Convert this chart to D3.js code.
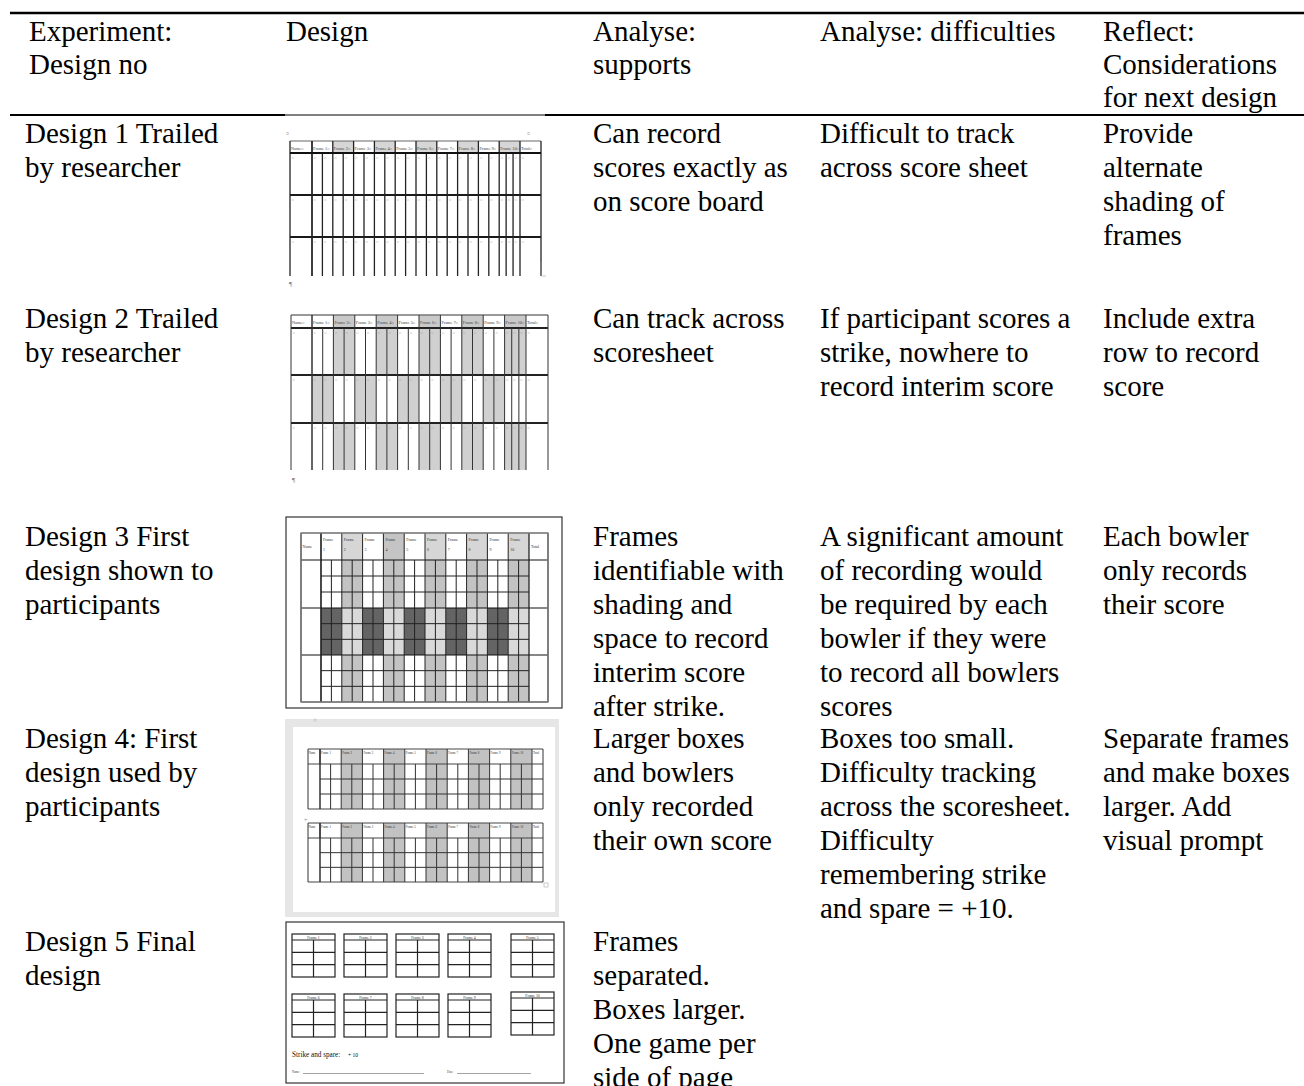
<!DOCTYPE html>
<html><head><meta charset="utf-8">
<script src="https://cdn.jsdelivr.net/npm/d3@7"></script>
<style>html,body{margin:0;padding:0;background:#fff;}svg{display:block;}</style>
</head><body>
<script>
// ---------- DATA ----------
const headers = [["Experiment:","Design no"],["Design"],["Analyse:","supports"],["Analyse: difficulties"],["Reflect:","Considerations","for next design"]];
const designNames = [
  ["Design 1 Trailed","by researcher"],
  ["Design 2 Trailed","by researcher"],
  ["Design 3 First","design shown to","participants"],
  ["Design 4: First","design used by","participants"],
  ["Design 5 Final","design"]
];
const supports = [
  ["Can record","scores exactly as","on score board"],
  ["Can track across","scoresheet"],
  ["Frames","identifiable with","shading and","space to record","interim score","after strike."],
  ["Larger boxes","and bowlers","only recorded","their own score"],
  ["Frames","separated.","Boxes larger.","One game per","side of page"]
];
const difficulties = [
  ["Difficult to track","across score sheet"],
  ["If participant scores a","strike, nowhere to","record interim score"],
  ["A significant amount","of recording would","be required by each","bowler if they were","to record all bowlers","scores"],
  ["Boxes too small.","Difficulty tracking","across the scoresheet.","Difficulty","remembering strike","and spare = +10."],
  []
];
const reflections = [
  ["Provide","alternate","shading of","frames"],
  ["Include extra","row to record","score"],
  ["Each bowler","only records","their score"],
  ["Separate frames","and make boxes","larger. Add","visual prompt"],
  []
];
const frameNumbers = [1,2,3,4,5,6,7,8,9,10];
const ballsPerFrame = [2,2,2,2,2,2,2,2,2,3];
const shadedFrames = [0,1,0,1,0,1,0,1,0,1];           // alternate shading (even frames)
const design2RowShading = [[0,1,0,1,0,1,0,1,0,1],[1,0,1,0,1,0,1,0,1,0],[0,1,0,1,0,1,0,1,0,1]];
const design3BlockShading = [["","L","","L","","L","","L","","L"],["D","l","D","l","D","l","D","l","D","l"],["","L","","L","","L","","L","","L"]];
const strikeLabel = "Strike and spare:";
const strikeValue = "+ 10";

// ---------- SETUP ----------
const W=1304,H=1086;
const FONT="'Liberation Serif','Times New Roman',serif";
const svg=d3.select("body").append("svg").attr("width",W).attr("height",H);
svg.append("rect").attr("width",W).attr("height",H).attr("fill","#fff");

function ln(g,x1,y1,x2,y2,stroke,w){return g.append("line").attr("x1",x1).attr("y1",y1).attr("x2",x2).attr("y2",y2).attr("stroke",stroke).attr("stroke-width",w);}
function rc(g,x,y,w,h,fill,stroke,sw){return g.append("rect").attr("x",x).attr("y",y).attr("width",w).attr("height",h).attr("fill",fill||"none").attr("stroke",stroke||"none").attr("stroke-width",sw||0);}
function tx(g,x,y,s,size,fill,anchor,weight){return g.append("text").attr("x",x).attr("y",y).text(s).attr("font-family",FONT).attr("font-size",size).attr("fill",fill||"#000").attr("text-anchor",anchor||"start").attr("font-weight",weight||"normal");}

// ---------- TABLE TEXT ----------
const colX=[25,286,593,820,1103];
const lineH=34;
const T=svg.append("g");
headers.forEach((lines,i)=>{
  lines.forEach((s,j)=>tx(T,i===0?29:colX[i],41+j*33,s,29));
});
const rowBase=[143,328,546,748,951];
const cols=[designNames,null,supports,difficulties,reflections];
cols.forEach((arr,ci)=>{
  if(!arr) return;
  arr.forEach((lines,ri)=>lines.forEach((s,j)=>tx(T,colX[ci],rowBase[ri]+j*lineH,s,29)));
});

// rules
ln(T,10,13,W,13,"#000",2.5);
ln(T,10,115,285,115,"#000",2);
ln(T,285,115,545,115,"#000",1);
ln(T,545,115,W,115,"#000",2);

// ---------- SCORESHEET HELPER ----------
function drawSheet(g,o){
  const fx=d3.scaleBand().domain(frameNumbers).range([o.xName,o.xTotal]);
  const bw=fx.bandwidth();
  const B=o.blocks;
  frameNumbers.forEach((f,i)=>{
    const hf=o.headerFill(i); if(hf) rc(g,fx(f),o.hy0,bw,o.hy1-o.hy0,hf);
    for(let b=0;b<B.length-1;b++){const bf=o.bodyFill(b,i); if(bf) rc(g,fx(f),B[b],bw,B[b+1]-B[b],bf);}
  });
  if(o.headerLabel){ o.headerLabel(g,fx,bw); }
  ln(g,o.x0,o.hy0,o.x1,o.hy0,o.hStroke,o.hTopW);
  B.forEach((y,k)=>{ if(k===B.length-1 && !o.bottom) return; ln(g,o.x0,y,o.x1,y,o.bStroke,o.bW); });
  if(o.sub>1){
    for(let b=0;b<B.length-1;b++){
      for(let s=1;s<o.sub;s++){
        const y=B[b]+(B[b+1]-B[b])*s/o.sub;
        ln(g,o.xName,y,o.subToTotal?o.x1:o.xTotal,y,o.sStroke,o.sW);
      }
    }
  }
  const yEnd=o.yEnd||B[B.length-1];
  [o.x0,o.xName,o.xTotal,o.x1].forEach(x=>ln(g,x,o.hy0,x,yEnd,o.vStroke,o.vOuterW||o.vW));
  frameNumbers.forEach((f,i)=>{
    ln(g,fx(f),o.hy0,fx(f),yEnd,o.vStroke,o.vW);
    const n=o.balls[i];
    for(let k=1;k<n;k++){const x=fx(f)+bw*k/n; ln(g,x,o.hy1,x,yEnd,o.vStroke,o.vSubW||o.vW);}
  });
  if(o.marks){
    for(let b=0;b<B.length-1;b++){
      tx(g,o.x0+1.5,B[b]+6,"¤",4.5,"#999");
      frameNumbers.forEach((f,i)=>{const n=o.balls[i]; for(let k=0;k<n;k++) tx(g,fx(f)+bw*k/n+1.5,B[b]+6,"¤",4.5,"#999");});
      tx(g,o.xTotal+1.5,B[b]+6,"¤",4.5,"#999");
    }
  }
}
function wordHeader(g,fx,bw,o,size){
  tx(g,o.x0+1,o.hy0+(o.hy1-o.hy0)*0.72,"Name¤",size,"#444");
  frameNumbers.forEach(f=>tx(g,fx(f)+1,o.hy0+(o.hy1-o.hy0)*0.72,"Frame "+f+"¤",size,"#444"));
  tx(g,o.xTotal+1,o.hy0+(o.hy1-o.hy0)*0.72,"Total¤",size,"#444");
}

// ---------- DESIGN 1 ----------
(function(){
  const g=svg.append("g");
  const o={x0:290,xName:312,xTotal:520,x1:541,hy0:141,hy1:153,blocks:[153,195,237,276],sub:1,balls:ballsPerFrame,
    headerFill:i=>shadedFrames[i]?"#d6d6d6":null, bodyFill:()=>null,
    hStroke:"#666",hTopW:1,bStroke:"#1a1a1a",bW:2.2,vStroke:"#222",vW:1.3,marks:true};
  o.headerLabel=(g,fx,bw)=>wordHeader(g,fx,bw,o,4.3);
  drawSheet(g,o);
  ln(g,290,153,541,153,"#111",2);
  tx(g,286,136,"¤",6,"#999"); tx(g,527,136,"¤",6,"#999"); tx(g,289,286,"¶",7,"#777");
  ln(g,541,262,541,276,"#888",0.8); ln(g,541,276,546,276,"#bbb",0.8);
})();

// ---------- DESIGN 2 ----------
(function(){
  const g=svg.append("g");
  const o={x0:291,xName:312,xTotal:526,x1:548,hy0:315,hy1:328,blocks:[328,375,423,470],sub:1,balls:ballsPerFrame,
    headerFill:i=>shadedFrames[i]?"#c9c9c9":null, bodyFill:(b,i)=>design2RowShading[b][i]?"#d0d0d0":null,
    hStroke:"#777",hTopW:1.5,bStroke:"#222",bW:2,vStroke:"#333",vW:1,marks:true};
  o.headerLabel=(g,fx,bw)=>wordHeader(g,fx,bw,o,4.3);
  drawSheet(g,o);
  tx(g,292,482,"¶",7,"#777");
})();

// ---------- DESIGN 3 ----------
(function(){
  const g=svg.append("g");
  rc(g,286,517,276,191,"#fff","#333",1.2);
  const fills={L:"#c3c3c3",l:"#d9d9d9",D:"#646464"};
  const o={x0:301,xName:321,xTotal:529,x1:548,hy0:533,hy1:560,blocks:[560,608,655,702],sub:3,balls:frameNumbers.map(()=>2),
    headerFill:i=>shadedFrames[i]?(i===3?"#c4c4c4":"#d6d6d6"):null,
    bodyFill:(b,i)=>{const c=design3BlockShading[b][i];return c?fills[c]:null;},
    hStroke:"#888",hTopW:1.5,bStroke:"#111",bW:1.2,sStroke:"#222",sW:1,vStroke:"#222",vW:1,vOuterW:1.3,bottom:true};
  o.headerLabel=(g,fx,bw)=>{
    tx(g,o.x0+1.5,548,"Name",4,"#333");
    frameNumbers.forEach(f=>{tx(g,fx(f)+2,541,"Frame",4,"#333"); tx(g,fx(f)+2,551,String(f),4,"#333");});
    tx(g,o.xTotal+2,548,"Total",4,"#333");
  };
  drawSheet(g,o);
  rc(g,301,533,247,169,"none","#888",1.3);
})();

// ---------- DESIGN 4 ----------
(function(){
  const g=svg.append("g");
  rc(g,285,719,274,198,"#e6e6e6");
  rc(g,293,727,262,185,"#fff");
  [[749,764,[764,809]],[823,838,[838,882]]].forEach(([h0,h1,bb])=>{
    const o={x0:308,xName:320,xTotal:532,x1:543,hy0:h0,hy1:h1,blocks:bb,sub:3,balls:frameNumbers.map(()=>2),subToTotal:true,
      headerFill:i=>shadedFrames[i]?"#c2c2c2":null, bodyFill:(b,i)=>shadedFrames[i]?"#c2c2c2":null,
      hStroke:"#444",hTopW:1,bStroke:"#444",bW:1,sStroke:"#333",sW:1,vStroke:"#333",vW:1,bottom:true};
    o.headerLabel=(g,fx,bw)=>{
      tx(g,o.x0+0.5,h0+5,"Name",3,"#333");
      frameNumbers.forEach(f=>tx(g,fx(f)+1,h0+5,"Frame "+f,3,"#333"));
      tx(g,o.xTotal+1,h0+5,"Total",3,"#333");
    };
    drawSheet(g,o);
    ln(g,320,h1,320,h0,"#333",1);
  });
  tx(g,304,822,"+",6,"#888");
  rc(g,544,883,4,4,"none","#aaa",0.6);
  rc(g,314,719,2,2,"none","#bbb",0.5);
})();

// ---------- DESIGN 5 ----------
(function(){
  const g=svg.append("g");
  rc(g,286,922,278,161,"#fff","#333",1.2);
  const xs=d3.scaleLinear().domain([0,3]).range([292,448]);
  const boxW=43,boxH=43,titleH=6;
  frameNumbers.forEach((f,i)=>{
    const row=Math.floor(i/5), k=i%5;
    const x=k<4?xs(k):511, y=row===0?934:(k===4?992:994);
    rc(g,x,y,boxW,boxH,"#fff","#222",1.2);
    ln(g,x,y+titleH,x+boxW,y+titleH,"#222",1);
    ln(g,x+boxW/2,y+titleH,x+boxW/2,y+boxH,"#222",1.2);
    const rh=(boxH-titleH)/3;
    for(let r=1;r<3;r++) ln(g,x,y+titleH+rh*r,x+boxW,y+titleH+rh*r,"#222",1.2);
    tx(g,x+boxW/2,y+5,"Frame "+f,3.8,"#333","middle");
  });
  tx(g,292,1057,strikeLabel,7.2,"#111");
  tx(g,348,1057,strikeValue,5.5,"#111");
  tx(g,292,1073,"Name:",3,"#444"); ln(g,303,1073.5,424,1073.5,"#666",0.6);
  tx(g,447,1073,"Date:",3,"#444"); ln(g,457,1073.5,531,1073.5,"#666",0.6);
})();
</script>
</body></html>
